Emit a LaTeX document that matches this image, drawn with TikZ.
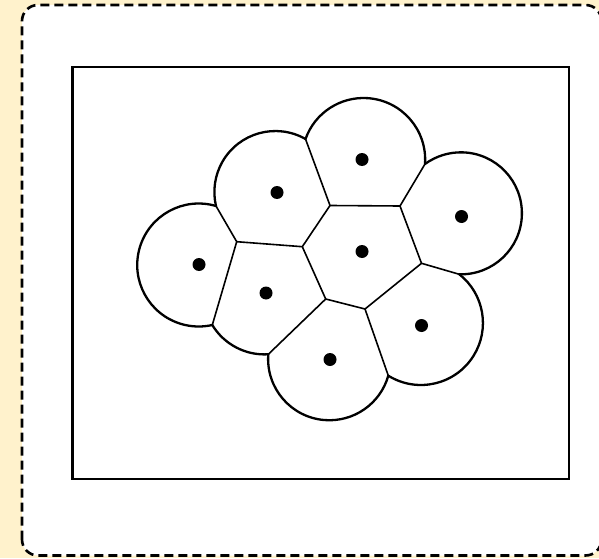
\documentclass[tikz,border=0pt]{standalone}
\usetikzlibrary{calc}
\definecolor{cream}{HTML}{FFF2CC}
\begin{document}
\begin{tikzpicture}[x=1pt,y=1pt,
  arcline/.style={line width=2.3pt,line cap=round},
  edgeline/.style={line width=1.6pt,line cap=round},
  site/.style={circle,fill=black,inner sep=0pt,minimum size=13pt},
  framebox/.style={line width=2.5pt},
  outerbox/.style={fill=white,line width=2.6pt,dash pattern=on 9pt off 5pt,rounded corners=16pt}]
\useasboundingbox (0,0) rectangle (599,558);
\fill[cream] (0,0) rectangle (599,558);
\begin{scope}
\clip (0,0) rectangle (599,558);
\draw[outerbox] (22,2.5) rectangle (601.5,553);
\end{scope}
\draw[framebox] (72.5,79) rectangle (569,491);
% Voronoi vertices
\coordinate (V1) at (330,352.5);
\coordinate (V2) at (400,352);
\coordinate (V3) at (236.7,316.3);
\coordinate (V4) at (302.3,311.3);
\coordinate (V5) at (421.5,294.7);
\coordinate (V6) at (325.7,259);
\coordinate (V7) at (365,249);
% outer junctions
\coordinate (PAB) at (305.5,419);
\coordinate (PBC) at (425,394);
\coordinate (PAD) at (216,352);
\coordinate (PDE) at (212.3,233);
\coordinate (PEH) at (268.3,203.7);
\coordinate (PHG) at (388.3,182.3);
\coordinate (PGC) at (459.3,283.7);
% arcs
\draw[arcline] (PAB) arc[start angle=60.4, end angle=193.26, radius=61];
\draw[arcline] (PBC) arc[start angle=-4.1, end angle=160.47, radius=61.6];
\draw[arcline] (PGC) arc[start angle=-91.5, end angle=126.06, radius=61];
\draw[arcline] (PAD) arc[start angle=73.68, end angle=282.76, radius=61.5];
\draw[arcline] (PDE) arc[start angle=211.19, end angle=273.57, radius=61];
\draw[arcline] (PEH) arc[start angle=175.6, end angle=344.18, radius=61.25];
\draw[arcline] (PHG) arc[start angle=238.24, end angle=411.77, radius=62];
% edges
\draw[edgeline] (PAB) -- (V1) -- (V2) -- (PBC);
\draw[edgeline] (V1) -- (V4);
\draw[edgeline] (V2) -- (V5) -- (PGC);
\draw[edgeline] (PAD) -- (V3) -- (PDE);
\draw[edgeline] (V3) -- (V4) -- (V6) -- (PEH);
\draw[edgeline] (V6) -- (V7) -- (PHG);
\draw[edgeline] (V7) -- (V5);
% sites
\node[site] (A) at (277,365.5) {};
\node[site] (B) at (362,398.5) {};
\node[site] (C) at (461.5,341.5) {};
\node[site] (D) at (199,293.5) {};
\node[site] (E) at (266,265) {};
\node[site] (F) at (362,306.5) {};
\node[site] (G) at (421.5,232.5) {};
\node[site] (H) at (330,198.5) {};
\end{tikzpicture}
\end{document}
